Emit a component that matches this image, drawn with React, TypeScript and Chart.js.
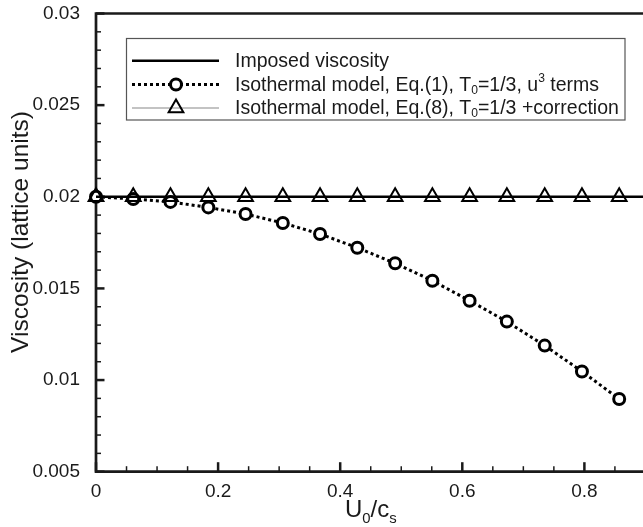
import React, { useEffect, useRef } from 'react';
import { Chart, registerables } from 'chart.js';

Chart.register(...registerables);

// ---------- data ----------
const U0_CS = [0, 0.061, 0.122, 0.184, 0.245, 0.306, 0.367, 0.428, 0.49, 0.551, 0.612, 0.673, 0.735, 0.796, 0.857];
const VISC_EQ1 = [0.02, 0.01988, 0.01972, 0.01942, 0.01906, 0.01857, 0.01797, 0.01722, 0.01637, 0.01542, 0.01433, 0.01319, 0.01188, 0.01047, 0.00897];
const VISC_EQ8 = [0.02, 0.02, 0.02, 0.02, 0.02, 0.02, 0.02, 0.02, 0.02, 0.02, 0.02, 0.02, 0.02, 0.02, 0.02];
const IMPOSED_VISC = 0.02;

const X_MIN = 0;
const X_MAX = 0.896;
const Y_MIN = 0.005;
const Y_MAX = 0.03;
const X_TICKS = [0, 0.2, 0.4, 0.6, 0.8];
const X_TICK_LABELS = ['0', '0.2', '0.4', '0.6', '0.8'];
const Y_TICKS = [0.005, 0.01, 0.015, 0.02, 0.025, 0.03];
const Y_TICK_LABELS = ['0.005', '0.01', '0.015', '0.02', '0.025', '0.03'];
const X_MINOR_STEP = 0.05;
const Y_MINOR_STEP = 0.001;

type Seg = { t: string; sub?: boolean; sup?: boolean };
const LEGEND_ROWS: Seg[][] = [
  [{ t: 'Imposed viscosity' }],
  [{ t: 'Isothermal model, Eq.(1), T' }, { t: '0', sub: true }, { t: '=1/3, u' }, { t: '3', sup: true }, { t: ' terms' }],
  [{ t: 'Isothermal model, Eq.(8), T' }, { t: '0', sub: true }, { t: '=1/3 +correction' }],
];
const X_TITLE: Seg[] = [{ t: 'U' }, { t: '0', sub: true }, { t: '/c' }, { t: 's', sub: true }];
const Y_TITLE = 'Viscosity (lattice units)';

const FONT = '"Liberation Sans", Arial, Helvetica, sans-serif';

function drawRich(ctx: CanvasRenderingContext2D, segs: Seg[], x: number, y: number, size: number) {
  let cx = x;
  for (const s of segs) {
    const fs = s.sub || s.sup ? size * 0.62 : size;
    ctx.font = `${fs}px ${FONT}`;
    let dy = 0;
    if (s.sub) dy = size * 0.26;
    if (s.sup) dy = -size * 0.36;
    ctx.fillText(s.t, cx, y + dy);
    cx += ctx.measureText(s.t).width;
  }
  return cx - x;
}

const framePlugin = {
  id: 'frame',
  beforeDatasetsDraw(chart: any) {
    const { ctx, chartArea: a, scales } = chart;
    const xs = scales.x;
    const ys = scales.y;
    ctx.save();
    ctx.strokeStyle = '#1a1a1a';
    for (let i = 0; Y_MIN + i * Y_MINOR_STEP <= Y_MAX + 1e-9; i++) {
      const v = Y_MIN + i * Y_MINOR_STEP;
      const p = ys.getPixelForValue(v);
      const major = Y_TICKS.some((t) => Math.abs(t - v) < 1e-9);
      ctx.lineWidth = major ? 2.5 : 1.5;
      ctx.beginPath();
      ctx.moveTo(a.left, p);
      ctx.lineTo(a.left + (major ? 8.5 : 5), p);
      ctx.stroke();
    }
    for (let i = 0; X_MIN + i * X_MINOR_STEP <= X_MAX + 1e-9; i++) {
      const v = X_MIN + i * X_MINOR_STEP;
      const p = xs.getPixelForValue(v);
      const major = X_TICKS.some((t) => Math.abs(t - v) < 1e-9);
      ctx.lineWidth = major ? 2.5 : 1.5;
      ctx.beginPath();
      ctx.moveTo(p, a.bottom);
      ctx.lineTo(p, a.bottom - (major ? 9.5 : 5.5));
      ctx.stroke();
    }
    ctx.lineWidth = 2.7;
    ctx.beginPath();
    ctx.moveTo(a.right + 2, a.top);
    ctx.lineTo(a.left, a.top);
    ctx.lineTo(a.left, a.bottom);
    ctx.lineTo(a.right + 2, a.bottom);
    ctx.stroke();
    ctx.restore();
  },
  afterDraw(chart: any) {
    const { ctx } = chart;
    ctx.save();
    ctx.fillStyle = '#1a1a1a';
    ctx.textBaseline = 'alphabetic';
    drawRich(ctx, X_TITLE, 345, 517, 24);
    ctx.save();
    ctx.translate(21, 232);
    ctx.rotate(-Math.PI / 2);
    ctx.font = `24.5px ${FONT}`;
    ctx.textAlign = 'center';
    ctx.textBaseline = 'middle';
    ctx.fillText(Y_TITLE, 0, 0);
    ctx.restore();

    // legend box
    const bx = 126.5, by = 38.5, bw = 498.5, bh = 81.5;
    ctx.fillStyle = '#ffffff';
    ctx.fillRect(bx, by, bw, bh);
    ctx.strokeStyle = '#555';
    ctx.lineWidth = 1.2;
    ctx.strokeRect(bx, by, bw, bh);
    const rowsY = [60.7, 84.5, 108];
    const lx0 = 132, lx1 = 219, mx = 176, tx = 235;
    const ds = chart.data.datasets;
    ctx.strokeStyle = '#000';
    ctx.lineWidth = 2.5;
    ctx.setLineDash([]);
    ctx.beginPath();
    ctx.moveTo(lx0, rowsY[0]);
    ctx.lineTo(lx1, rowsY[0]);
    ctx.stroke();
    ctx.lineWidth = ds[1].borderWidth;
    ctx.setLineDash(ds[1].borderDash);
    ctx.beginPath();
    ctx.moveTo(lx0, rowsY[1]);
    ctx.lineTo(lx1, rowsY[1]);
    ctx.stroke();
    ctx.setLineDash([]);
    ctx.beginPath();
    ctx.arc(mx, rowsY[1], ds[1].pointRadius, 0, Math.PI * 2);
    ctx.fillStyle = '#fff';
    ctx.fill();
    ctx.lineWidth = ds[1].pointBorderWidth;
    ctx.stroke();
    ctx.strokeStyle = ds[2].borderColor;
    ctx.lineWidth = ds[2].borderWidth;
    ctx.beginPath();
    ctx.moveTo(lx0, rowsY[2]);
    ctx.lineTo(lx1, rowsY[2]);
    ctx.stroke();
    const r = ds[2].pointRadius;
    ctx.strokeStyle = '#000';
    ctx.lineWidth = ds[2].pointBorderWidth;
    ctx.beginPath();
    ctx.moveTo(mx, rowsY[2] - r);
    ctx.lineTo(mx + Math.sin((2 * Math.PI) / 3) * r, rowsY[2] + r / 2);
    ctx.lineTo(mx - Math.sin((2 * Math.PI) / 3) * r, rowsY[2] + r / 2);
    ctx.closePath();
    ctx.stroke();
    ctx.fillStyle = '#1a1a1a';
    ctx.textBaseline = 'middle';
    LEGEND_ROWS.forEach((row, i) => drawRich(ctx, row, tx, rowsY[i] + 1, 19.5));
    ctx.restore();
  },
};

export default function App() {
  const ref = useRef<HTMLCanvasElement>(null);
  useEffect(() => {
    if (!ref.current) return;
    const chart = new Chart(ref.current, {
      type: 'line',
      data: {
        datasets: [
          {
            label: 'Imposed viscosity',
            data: [
              { x: X_MIN, y: IMPOSED_VISC },
              { x: X_MAX, y: IMPOSED_VISC },
            ],
            borderColor: '#000',
            borderWidth: 2.5,
            pointRadius: 0,
            order: 0,
            clip: false,
          } as any,
          {
            label: 'Isothermal model, Eq.(1), T0=1/3, u3 terms',
            data: U0_CS.map((x, i) => ({ x, y: VISC_EQ1[i] })),
            borderColor: '#000',
            borderWidth: 3,
            borderDash: [3, 3],
            pointStyle: 'circle',
            pointRadius: 5.5,
            pointBorderWidth: 3,
            pointBorderColor: '#000',
            pointBackgroundColor: '#fff',
            order: 2,
            clip: false,
          },
          {
            label: 'Isothermal model, Eq.(8), T0=1/3 +correction',
            data: U0_CS.map((x, i) => ({ x, y: VISC_EQ8[i] })),
            borderColor: '#888',
            borderWidth: 1.2,
            pointStyle: 'triangle',
            pointRadius: 8.5,
            pointBorderWidth: 2,
            pointBorderColor: '#000',
            pointBackgroundColor: 'rgba(255,255,255,0)',
            order: 1,
            clip: false,
          },
        ],
      },
      options: {
        animation: false,
        responsive: false,
        devicePixelRatio: 1,
        layout: { autoPadding: false, padding: { top: 13.5, right: 0, left: 0, bottom: 0 } },
        plugins: { legend: { display: false }, tooltip: { enabled: false } },
        scales: {
          x: {
            type: 'linear',
            min: X_MIN,
            max: X_MAX,
            afterBuildTicks: (s: any) => {
              s.ticks = X_TICKS.map((value) => ({ value }));
            },
            afterFit: (s: any) => {
              s.height = 55.3;
              s.paddingLeft = 0;
              s.paddingRight = 0;
              s.paddingTop = 0;
              s.paddingBottom = 0;
            },
            ticks: {
              callback: (v: any) => X_TICK_LABELS[X_TICKS.findIndex((t) => Math.abs(t - v) < 1e-9)],
              font: { size: 19, family: FONT },
              color: '#1a1a1a',
              padding: 1,
              maxRotation: 0,
              autoSkip: false,
              includeBounds: false,
            },
            grid: { display: false },
            border: { display: false },
          },
          y: {
            type: 'linear',
            min: Y_MIN,
            max: Y_MAX,
            afterBuildTicks: (s: any) => {
              s.ticks = Y_TICKS.map((value) => ({ value }));
            },
            afterFit: (s: any) => {
              s.width = 96;
              s.paddingLeft = 0;
              s.paddingRight = 0;
              s.paddingTop = 0;
              s.paddingBottom = 0;
            },
            ticks: {
              callback: (v: any) => Y_TICK_LABELS[Y_TICKS.findIndex((t) => Math.abs(t - v) < 1e-9)],
              font: { size: 19, family: FONT },
              color: '#1a1a1a',
              padding: 8,
              autoSkip: false,
              includeBounds: false,
            },
            grid: { display: false },
            border: { display: false },
          },
        },
      },
      plugins: [framePlugin],
    } as any);
    return () => chart.destroy();
  }, []);
  return (
    <div style={{ position: 'fixed', left: 0, top: 0, width: 643, height: 527, background: '#fff' }}>
      <canvas ref={ref} width={643} height={527} style={{ width: 643, height: 527, display: 'block' }} />
    </div>
  );
}
